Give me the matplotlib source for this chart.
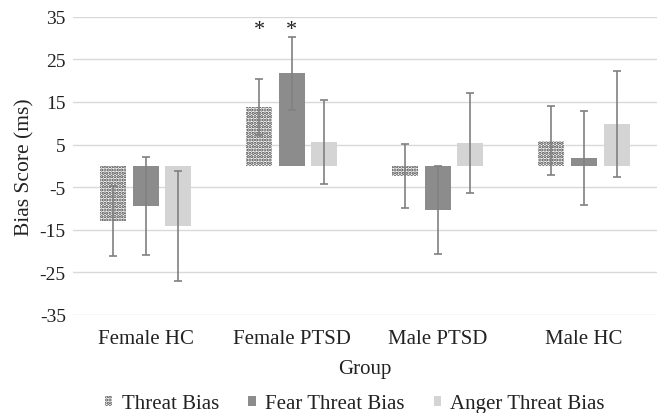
import numpy as np
import matplotlib.pyplot as plt

plt.rcParams['font.family'] = ['Liberation Serif', 'DejaVu Serif']
plt.rcParams['hatch.linewidth'] = 1.6
plt.rcParams['axes.unicode_minus'] = False

groups = ['Female HC', 'Female PTSD', 'Male PTSD', 'Male HC']
series = ['Threat Bias', 'Fear Threat Bias', 'Anger Threat Bias']
threat_bias = [-12.9, 13.85, -2.4, 5.95]
threat_err = [8.2, 6.5, 7.6, 8.2]
fear_bias = [-9.4, 21.7, -10.4, 1.8]
fear_err = [11.5, 8.6, 10.4, 11.05]
anger_bias = [-14.1, 5.65, 5.3, 9.8]
anger_err = [13.0, 9.9, 11.75, 12.5]
stars = [(1, 0), (1, 1)]  # (group, series) marked with *
star_y = 32

values = [threat_bias, fear_bias, anger_bias]
errors = [threat_err, fear_err, anger_err]
colors = ['white', '#8c8c8c', '#d4d4d4']
hatches = ['.....', None, None]
txt = '#222222'

fig = plt.figure(figsize=(6.61, 4.14), dpi=100)
ax = fig.add_axes([0.110, 0.237, 0.884, 0.720])

x = np.arange(len(groups))
w = 0.178
step = 0.223
for i, name in enumerate(series):
    pos = x + (i - 1) * step
    ax.bar(pos, values[i], width=w, color=colors[i], hatch=hatches[i],
           edgecolor='#444444' if hatches[i] else colors[i], linewidth=0,
           label=name, zorder=2)
    ax.errorbar(pos, values[i], yerr=errors[i], fmt='none', ecolor='#808080',
                elinewidth=1.2, capsize=3, capthick=1.2, zorder=3)

for g, s in stars:
    ax.text(x[g] + (s - 1) * step, star_y, '*', ha='center', va='center',
            fontsize=16, color=txt)

ax.set_ylim(-35, 35)
ax.set_xlim(-0.5, 3.5)
ax.set_yticks(np.arange(-35, 36, 10))
ax.set_xticks(x)
ax.set_xticklabels(groups)
ax.grid(axis='y', color='#d9d9d9', linewidth=1, zorder=0)
ax.set_axisbelow(True)
for sp in ax.spines.values():
    sp.set_visible(False)
ax.tick_params(axis='y', length=0, labelsize=14, colors=txt, pad=5)
ax.tick_params(axis='x', length=0, labelsize=15, colors=txt, pad=10)
ax.set_ylabel('Bias Score (ms)', fontsize=15.5, color=txt, labelpad=4)
ax.set_xlabel('Group', fontsize=15, color=txt, labelpad=8)

ax.legend(loc='center', bbox_to_anchor=(0.483, -0.298), ncol=3,
          frameon=False, fontsize=15, handlelength=0.35, handleheight=0.35,
          handletextpad=0.45, columnspacing=1.4, labelcolor=txt,
          borderpad=0.1)

fig.savefig('out.png', dpi=100)
